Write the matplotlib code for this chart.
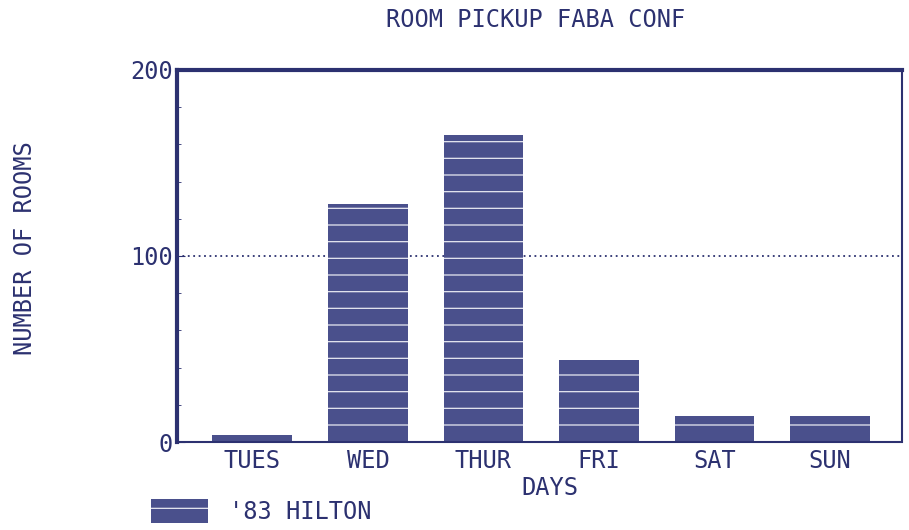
import matplotlib
matplotlib.use("Agg")
import matplotlib.pyplot as plt
from matplotlib.patches import Patch

# data
days = ["TUES", "WED", "THUR", "FRI", "SAT", "SUN"]
rooms = [4, 128, 165, 44, 14, 14]
series_name = "'83 HILTON"

ink = "#2c3170"
bar_col = "#4a508c"

plt.rcParams['font.family'] = ['DejaVu Sans Mono']
plt.rcParams['hatch.linewidth'] = 0.9

fig = plt.figure(figsize=(9.09, 5.30), dpi=100)
ax = fig.add_axes([0.195, 0.166, 0.797, 0.702])

x = list(range(len(days)))
ax.bar(x, rooms, width=0.69, color=bar_col, linewidth=0)
# white printer stripes across the bars
ax.bar(x, rooms, width=0.69, facecolor='none', hatch='-', edgecolor='#e8e9f2', linewidth=0)

ax.set_xlim(-0.65, 5.62)
ax.set_ylim(0, 200)
ax.set_yticks([0, 100, 200])
ax.set_yticks(range(0, 201, 20), minor=True)
ax.axhline(100, color=ink, linestyle=(0, (1, 2)), linewidth=1.3, zorder=0)

ax.set_xticks(x)
ax.set_xticklabels(days)
ax.tick_params(axis='x', length=0, pad=5, labelsize=17, colors=ink)
ax.tick_params(axis='y', which='major', direction='in', length=6, labelsize=17, colors=ink, pad=3)
ax.tick_params(axis='y', which='minor', direction='in', length=3, colors=ink)

for side in ['left', 'top']:
    ax.spines[side].set_linewidth(3)
    ax.spines[side].set_color(ink)
for side in ['bottom', 'right']:
    ax.spines[side].set_linewidth(1.5)
    ax.spines[side].set_color(ink)
ax.spines['bottom'].set_linestyle((0, (1, 1)))

fig.text(0.589, 0.962, "ROOM PICKUP FABA CONF", ha='center', va='center', fontsize=17, color=ink)
fig.text(0.027, 0.532, "NUMBER OF ROOMS", ha='center', va='center', rotation=90, fontsize=17, color=ink)
fig.text(0.605, 0.08, "DAYS", ha='center', va='center', fontsize=17, color=ink)

fig.legend(handles=[Patch(facecolor=bar_col, hatch='-', edgecolor='#e8e9f2', linewidth=0, label=series_name)],
           loc='lower left', bbox_to_anchor=(0.143, -0.029), frameon=False,
           fontsize=17, handlelength=2.4, handleheight=1.2, labelcolor=ink, handletextpad=0.9)

fig.savefig("out.png", dpi=100)
